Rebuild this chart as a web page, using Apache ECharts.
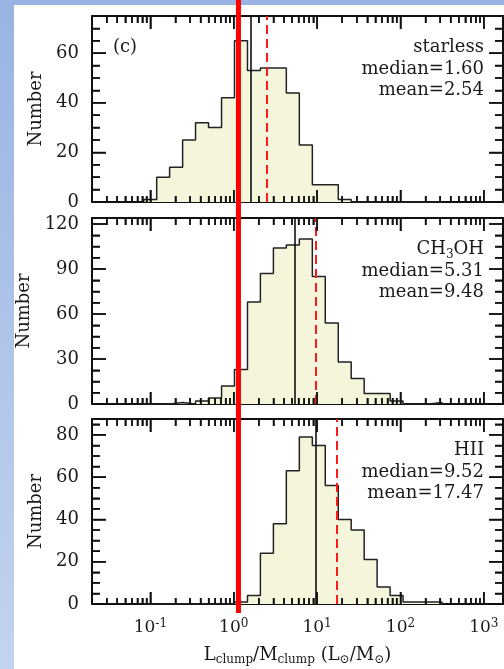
<!DOCTYPE html>
<html><head><meta charset="utf-8">
<script src="https://cdn.jsdelivr.net/npm/echarts@6/dist/echarts.min.js"></script>
<style>
html,body{margin:0;padding:0;background:#fff;}
#c{position:absolute;left:0;top:0;width:504px;height:669px;}
</style>
</head><body><div id="c"></div>
<script>
// ---- data ----
const binEdgesLog = [-1.080,-0.924,-0.769,-0.613,-0.458,-0.302,-0.146,0.009,0.165,0.320,0.476,0.631,0.787,0.943,1.098,1.254,1.409,1.565,1.720,1.876,2.031,2.187,2.343,2.498];
const starlessCounts = [1,10,14,25,32,30,42,65,53,54,54,44,23,7,7,1,0,0,0,0,0,0,0];
const ch3ohCounts    = [0,0,1,0,2,4,12,23,68,87,104,106,110,85,54,28,17,7,7,2,0,0,1];
const hiiCounts      = [0,0,0,0,0,0,0,1,4,24,38,63,79,75,56,40,35,21,8,4,1,1,1];
const panelNames = ['starless','CH3OH','HII'];
const medians = [1.60, 5.31, 9.52];
const means = [2.54, 9.48, 17.47];
const yMajorTicks = [[0,20,40,60],[0,30,60,90,120],[0,20,40,60,80]];
const xMajorTicks = [-1,0,1,2,3];
const xTickExponents = ['-1','0','1','2','3'];
const redLineValue = 1.14;
const panelTag = '(c)';

// ---- layout ----
const FONT = 'DejaVu Serif';
const TXT = '#1a1a1a';
const xMin = -1.7, xMax = 3.23;
const yMax = [75, 124, 87.5];
const gridLeft = 92, gridWidth = 411;
const gridTops = [16, 218, 419];
const gridHeights = [186, 186, 185];
const allCounts = [starlessCounts, ch3ohCounts, hiiCounts];

const xTickData = xMajorTicks.map(v => [v, 1]);
for (let n = -2; n <= 3; n++) for (let k = 2; k <= 9; k++) {
  const v = n + Math.log10(k);
  if (v > xMin && v < xMax) xTickData.push([v, 0]);
}
function yTickData(major, top) {
  const step = (major[1] - major[0]) / 4, out = major.map(v => [v, 1]);
  for (let v = step; v < top; v += step) if (major.indexOf(v) < 0) out.push([v, 0]);
  return out;
}

const supRich = {
  b: {fontSize: 17, fontFamily: FONT, color: TXT, lineHeight: 20},
  s: {fontSize: 12, fontFamily: FONT, color: TXT, lineHeight: 12, verticalAlign: 'top'}
};
const subRich = {
  n: {fontSize: 18, fontFamily: FONT, color: TXT, lineHeight: 22},
  s: {fontSize: 12, fontFamily: FONT, color: TXT, lineHeight: 12, verticalAlign: 'bottom'}
};
const xTitle = '{n|L}{s|clump}{n|/M}{s|clump}{n| (L}{s|\u2299}{n|/M}{s|\u2299}{n|)}';

const grids = [], xAxes = [], yAxes = [], series = [];
const graphics = [
  {type: 'rect', z: -20, silent: true, shape: {x: 0, y: 0, width: 504, height: 669},
   style: {fill: new echarts.graphic.LinearGradient(0, 0, 0, 1, [{offset: 0, color: '#99b4e2'}, {offset: 1, color: '#c3d3ef'}])}},
  {type: 'rect', z: -19, silent: true, shape: {x: 14, y: 5, width: 490, height: 664}, style: {fill: '#ffffff'}}
];
const GAP = ['-', '-'];

panelNames.forEach((name, i) => {
  const isBottom = i === 2;
  const g = grids.length;
  grids.push({left: gridLeft, width: gridWidth, top: gridTops[i], height: gridHeights[i]});
  const base = {type: 'value', min: xMin, max: xMax, splitLine: {show: false}, axisTick: {show: false},
    axisLine: {show: true, onZero: false, lineStyle: {color: '#111', width: 2}}};
  const xIdx = xAxes.length;
  xAxes.push(Object.assign({}, base, {
    gridIndex: g, position: 'bottom',
    axisLabel: {show: isBottom, customValues: xMajorTicks, margin: 14,
      formatter: v => '{b|10}{s|' + xTickExponents[xMajorTicks.indexOf(Math.round(v))] + '}', rich: supRich},
    name: isBottom ? xTitle : '', nameLocation: 'middle', nameGap: 40,
    nameTextStyle: {rich: subRich}
  }));
  xAxes.push(Object.assign({}, base, {gridIndex: g, position: 'top', axisLabel: {show: false}}));

  const yb = {type: 'value', min: 0, max: yMax[i], splitLine: {show: false}, axisTick: {show: false},
    axisLine: {show: true, onZero: false, lineStyle: {color: '#111', width: 2}}};
  const yIdx = yAxes.length;
  yAxes.push(Object.assign({}, yb, {
    gridIndex: g, position: 'left',
    axisLabel: {show: true, customValues: yMajorTicks[i], margin: 13, fontSize: 18, fontFamily: FONT, color: TXT},
    name: 'Number', nameLocation: 'middle', nameGap: 46, nameRotate: 90,
    nameTextStyle: {fontSize: 18, fontFamily: FONT, color: TXT}
  }));
  yAxes.push(Object.assign({}, yb, {gridIndex: g, position: 'right', axisLabel: {show: false}}));

  // step histogram
  const counts = allCounts[i];
  const pts = [[binEdgesLog[0], 0]];
  counts.forEach((c, k) => pts.push([binEdgesLog[k], c]));
  pts.push([binEdgesLog[counts.length], 0]);
  series.push({
    type: 'line', step: 'end', xAxisIndex: xIdx, yAxisIndex: yIdx,
    data: pts, symbol: 'none', silent: true,
    lineStyle: {color: '#222', width: 1.5},
    areaStyle: {color: '#f5f5dc', opacity: 1},
    z: 2,
    markLine: {
      silent: true, symbol: ['none', 'none'], label: {show: false}, animation: false,
      data: [
        {xAxis: Math.log10(medians[i]), lineStyle: {color: '#000', width: 1.5, type: 'solid'}},
        {xAxis: Math.log10(means[i]), lineStyle: {color: '#ff1a1a', width: 2, type: [9, 5]}}
      ]
    }
  });

  // inward tick marks on all four sides, as broken line segments in data coordinates
  const kY = yMax[i] / gridHeights[i];          // data units per pixel (y)
  const kX = (xMax - xMin) / gridWidth;         // data units per pixel (x)
  const tk = [], tkPairs = [];
  function seg(a, b) { tk.push(a, b, GAP); tkPairs.push([{coord: a}, {coord: b}]); }
  xTickData.forEach(([v, major]) => {
    seg([v, 0], [v, (major ? 12 : 6) * kY]);
    seg([v, yMax[i]], [v, yMax[i] - (major ? 13 : 7) * kY]);
  });
  yTickData(yMajorTicks[i], yMax[i]).forEach(([v, major]) => {
    const len = major ? 14 : 8;
    seg([xMin, v], [xMin + len * kX, v]);
    seg([xMax, v], [xMax - len * kX, v]);
  });
  series.push({
    type: 'line', xAxisIndex: xIdx, yAxisIndex: yIdx, data: tk,
    symbol: 'none', showSymbol: false, silent: true, clip: false, connectNulls: false,
    lineStyle: {color: '#111', width: 1.5}, z: 4,
    markLine: {
      silent: true, symbol: ['none', 'none'], label: {show: false}, animation: false,
      lineStyle: {color: '#111', width: 1.5, type: 'solid'},
      data: tkPairs
    }
  });

  const title = name.replace(/(\d)/g, '{sub|$1}');
  graphics.push({
    type: 'text', x: 484, y: gridTops[i] + 21, z: 50,
    style: {
      text: title + '\nmedian=' + medians[i].toFixed(2) + '\nmean=' + means[i].toFixed(2),
      font: '18px "' + FONT + '"', fill: TXT, align: 'right', verticalAlign: 'top', lineHeight: 21.5,
      rich: {sub: {fontSize: 12, fontFamily: FONT, fill: TXT, lineHeight: 12, verticalAlign: 'bottom', align: 'right'}}
    }
  });
});
graphics.push({type: 'text', x: 113, y: 38, z: 50, style: {text: panelTag, font: '18px "' + FONT + '"', fill: TXT}});

const chart = echarts.init(document.getElementById('c'));
chart.setOption({
  animation: false,
  grid: grids, xAxis: xAxes, yAxis: yAxes, series: series, graphic: graphics
});
const rx = chart.convertToPixel({xAxisIndex: 0}, Math.log10(redLineValue));
const yb0 = chart.convertToPixel({yAxisIndex: 4}, 0);
graphics.push({type: 'rect', z: 100, shape: {x: rx - 2.5, y: 0, width: 5, height: yb0 + 9}, style: {fill: '#ff0000'}});
chart.setOption({graphic: graphics});
</script>
</body></html>
